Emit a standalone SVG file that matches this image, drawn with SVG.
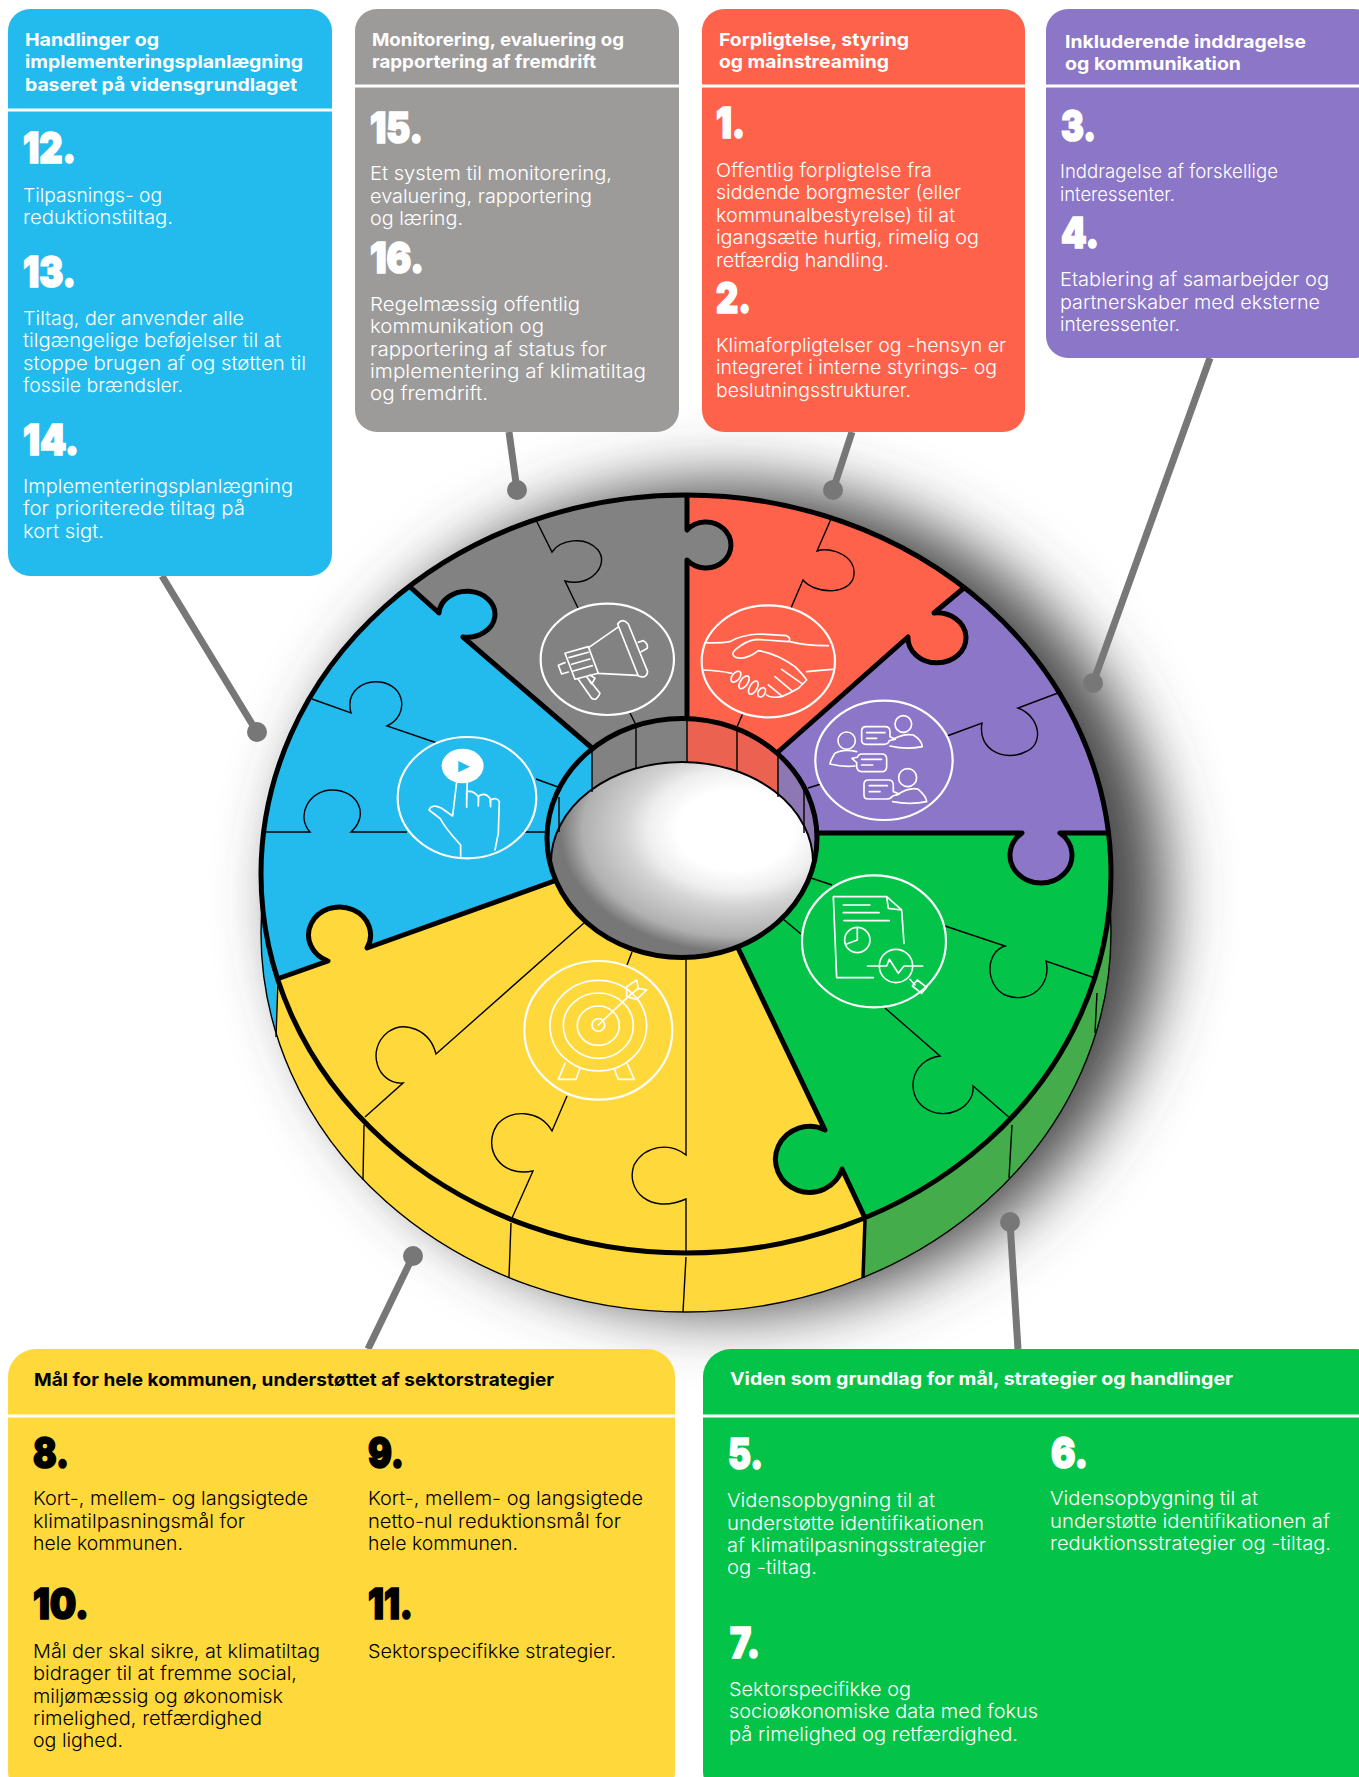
<svg xmlns="http://www.w3.org/2000/svg" width="1359" height="1777" viewBox="0 0 1359 1777">
<style>
text{font-family:Inter,"Liberation Sans",sans-serif}
.h{font-size:18px;font-weight:700}
.n{font-size:42px;font-weight:900;stroke-width:1.7px}
.b{font-size:19px;font-weight:300}
.w{fill:#fff}.w .n{stroke:#fff}
.k{fill:#000}.k .n{stroke:#000}
.sep{stroke:#fff;stroke-width:3}
.thick{fill:none;stroke:#000;stroke-width:5;stroke-linejoin:round}
.thin{fill:none;stroke:#000;stroke-width:1.4}
.ic{fill:none;stroke:#fff;stroke-width:5;stroke-linecap:round;stroke-linejoin:round}
.ring{fill:none;stroke:#fff;stroke-width:6.5}
.pin{stroke:#777;stroke-width:7;fill:none}
</style>
<defs>
<filter id="sh" x="-25%" y="-25%" width="150%" height="150%"><feGaussianBlur stdDeviation="32"/></filter>
<radialGradient id="hg" gradientUnits="userSpaceOnUse" cx="0" cy="0" r="1" gradientTransform="translate(735 830) scale(175 122)">
<stop offset=".33" stop-color="#fff"/><stop offset=".5" stop-color="#eee"/><stop offset=".62" stop-color="#d4d4d4"/><stop offset=".87" stop-color="#b0b0b0"/><stop offset="1" stop-color="#777"/></radialGradient>
<clipPath id="holeOuter"><ellipse cx="682" cy="838" rx="135" ry="119.5"/></clipPath>
<clipPath id="sideG"><path d="M865 1200L863 1330H1200V800H865Z"/></clipPath>
<clipPath id="sideB"><path d="M200 800H279L276 1060H200Z"/></clipPath>
</defs>
<rect width="1359" height="1777" fill="#fff"/>
<g id="wheel">
<ellipse id="wheel-shadow" cx="725" cy="897" rx="440" ry="415" fill="#4a4a4a" filter="url(#sh)"/>
<g id="wheel-side">
<ellipse cx="686" cy="933" rx="425" ry="379" fill="#FFD83B"/>
<ellipse cx="686" cy="933" rx="425" ry="379" fill="#44AC4A" clip-path="url(#sideG)"/>
<ellipse cx="686" cy="933" rx="425" ry="379" fill="#23BBEE" clip-path="url(#sideB)"/>
<ellipse class="thin" cx="686" cy="933" rx="425" ry="379" stroke-width="2"/>
<path class="thin" d="M278 980L276 1037M364 1125L363 1180M511 1223L509 1277M686 1257L683 1312M1012 1125L1009 1178M1097 993L1095 1033"/>
<path fill="none" stroke="#000" stroke-width="3.5" d="M865 1220L863 1278"/>
</g>
<g id="sector-red"><path fill="#FF624B" d="M687 719L687 560A25 23 0 1 0 687 530L687 495A425 379 0 0 1 965 587L934 613A29 25 0 1 1 908 637L778 752Z"/>
<path class="thin" d="M831 519L817 551C830 546 860 556 853 579C846 595 815 594 803 580L791 608M743 713L737 727"/></g>
<g id="sector-purple"><path fill="#8C76C7" d="M778 752L908 637A29 25 0 1 0 934 613L965 587A425 379 0 0 1 1109 833L1060 833A31 28 0 1 1 1022 833L817 833Z"/>
<path class="thin" d="M1058 693L1018 708C1040 716 1045 745 1025 752C1005 762 977 750 982 723L947 736M821 784L808 788"/></g>
<g id="sector-green"><path fill="#04C349" d="M817 833L1022 833A31 28 0 1 0 1060 833L1109 833A425 379 0 0 1 865 1218L842 1169A34 33 0 1 1 825 1130L738 948Z"/>
<path class="thin" d="M945 926L1005 946C985 952 985 985 1005 995C1030 1005 1052 985 1046 961L1095 978M811 878L832 885M783 919L801 934M885 1008L940 1056C910 1060 905 1095 925 1108C945 1122 975 1108 973 1086L1011 1119"/></g>
<g id="sector-yellow"><path fill="#FFD83B" d="M738 948L825 1130A34 33 0 1 0 842 1169L865 1218A425 379 0 0 1 277 979L328 961A31 28 0 1 1 367 948L557 880Z"/>
<path class="thin" d="M584 923L436 1054C430 1030 405 1020 388 1032C365 1050 378 1085 403 1083L365 1117M632 952L627 965M567 1096L552 1131C540 1110 510 1108 497 1125C482 1148 500 1178 533 1171L512 1218M686 958L686 1155C670 1142 645 1145 634 1165C625 1190 650 1215 686 1199L686 1253"/></g>
<g id="sector-blue"><path fill="#23BBEE" d="M557 880L367 948A31 28 0 1 0 328 961L277 979A425 379 0 0 1 409 586L439 613A28 23 0 1 1 463 637L592 748Z"/>
<path class="thin" d="M312 699L351 713C345 690 365 680 380 682C405 685 410 715 387 726L437 743M536 779L558 787M265 832L310 832C295 815 310 790 332 790C358 790 370 815 351 832L407 832M523 832L547 832"/></g>
<g id="sector-gray"><path fill="#828282" d="M592 748L463 637A28 23 0 1 0 439 613L409 586A425 379 0 0 1 687 495L687 530A25 23 0 1 1 687 560L687 719Z"/>
<path class="thin" d="M536 520L552 552C560 540 585 535 598 550C610 565 590 588 565 581L578 608M630 713L636 725"/></g>
<g id="wheel-hole">
<g clip-path="url(#holeOuter)">
<rect x="592" y="700" width="95" height="120" fill="#828282"/>
<rect x="687" y="700" width="91" height="120" fill="#EB6350"/>
<rect x="778" y="700" width="50" height="200" fill="#8E78B4"/>
<rect x="530" y="700" width="62" height="200" fill="#23BBEE"/>
<ellipse cx="682" cy="862" rx="131" ry="100" fill="url(#hg)"/>
<ellipse cx="682" cy="862" rx="131" ry="100" fill="none" stroke="#000" stroke-width="2"/>
</g>
<path class="thin" stroke-width="2" d="M592 748L592 792M687 719L687 763M778 752L778 797M636 725L636 768M737 727L737 770M804 790L804 833M559 797L559 832"/>
<ellipse class="thick" cx="682" cy="838" rx="135" ry="119.5"/>
</g>
<g id="wheel-outline">
<path class="thick" d="M687 719L687 560A25 23 0 1 0 687 530L687 495M778 752L908 637A29 25 0 1 0 934 613L965 587M817 833L1022 833A31 28 0 1 0 1060 833L1109 833M738 948L825 1130A34 33 0 1 0 842 1169L865 1218M557 880L367 948A31 28 0 1 0 328 961L277 979M592 748L463 637A28 23 0 1 0 439 613L409 586"/>
<ellipse class="thick" cx="686" cy="874" rx="425" ry="379"/>
</g>
</g>
<g id="icon-megaphone" transform="translate(250 480) scale(.3333)">
<ellipse class="ring" cx="1072" cy="538" rx="200" ry="167"/>
<path class="ic" d="M1017 502L1103 442M1045 580L1160 586M945 520L1015 500L1045 580L975 598ZM1103 432Q1118 412 1135 432L1193 575Q1190 597 1165 588ZM1165 487L1180 482Q1195 490 1192 505L1174 515M945 548L925 556L935 582L955 576M957 533L1015 517M965 553L1020 537M970 573L1027 557M985 598L1025 655Q1040 665 1050 640L1010 590M1010 590L1025 612L1035 595L1020 585"/>
</g>
<g id="icon-hand" transform="translate(250 480) scale(.3333)">
<ellipse class="ring" cx="651" cy="953" rx="208" ry="182"/>
<ellipse cx="638" cy="858" rx="63" ry="52" fill="#fff"/>
<path fill="#23BBEE" d="M625 843L660 860L625 877Z"/>
<path class="ic" stroke-width="4" fill="#23BBEE" d="M632 1130L632 1095Q590 1050 570 1015Q550 1000 537 990Q545 970 575 985L608 1008L622 890Q637 870 652 890L650 982L650 935Q670 930 685 950L685 978L686 948Q705 935 720 955L722 980L722 960Q740 950 748 965L745 1060L735 1110"/>
</g>
<g id="icon-handshake" transform="translate(680 480) scale(.3333)">
<ellipse class="ring" cx="265" cy="544" rx="200" ry="168"/>
<path class="ic" d="M75 488Q120 490 150 485Q180 465 240 462L320 467Q335 475 325 485L230 478Q200 480 165 510Q150 525 170 533Q200 540 235 512Q290 520 345 560Q370 585 380 600L355 625Q330 640 305 650Q270 655 260 645M330 485Q380 498 445 497M72 570Q120 572 155 580M380 575Q420 570 458 568M305 568L365 610M285 590L335 632M265 615L305 648"/>
<g class="ic"><ellipse cx="168" cy="590" rx="19" ry="11" transform="rotate(-50 168 590)"/><ellipse cx="192" cy="607" rx="22" ry="11" transform="rotate(-55 192 607)"/><ellipse cx="220" cy="623" rx="22" ry="11" transform="rotate(-60 220 623)"/><ellipse cx="245" cy="637" rx="15" ry="10" transform="rotate(-60 245 637)"/></g>
</g>
<g id="icon-people" transform="translate(680 480) scale(.3333)">
<ellipse class="ring" cx="612" cy="841" rx="206" ry="179"/>
<g class="ic"><circle cx="670" cy="732" r="25"/><circle cx="500" cy="782" r="26"/><circle cx="683" cy="893" r="27"/>
<path d="M640 778Q670 760 700 765Q725 780 727 800Q680 810 630 798M530 815Q490 805 465 820Q452 840 450 852Q490 862 525 858M650 945Q690 920 715 928Q740 950 740 965Q690 975 638 965"/>
<path d="M558 740H615Q630 740 630 755V770L646 778L628 782Q625 793 612 793H558Q545 793 545 780V753Q545 740 558 740ZM560 758H615M560 775H590"/>
<path d="M545 822H605Q620 822 620 837V860Q620 875 605 875H545Q532 875 530 860L530 848L516 835L532 832Q535 822 545 822ZM545 838H605M545 855H578"/>
<path d="M565 900H625Q640 900 640 915V935L658 942L638 948Q632 957 620 957H565Q552 957 552 944V913Q552 900 565 900ZM568 917H622M568 935H600"/></g>
</g>
<g id="icon-document" transform="translate(680 880) scale(.3333)">
<ellipse class="ring" cx="582" cy="184" rx="216" ry="198"/>
<g class="ic"><path d="M580 293L470 293L460 50L620 50L665 90L672 190M620 50L625 85L665 90M490 75H570M490 98H597M492 122H628M532 145L532 180L500 192"/><circle cx="532" cy="180" r="38"/><circle cx="648" cy="258" r="50"/><path d="M563 258H598L620 258L628 238L655 280L672 258H728M690 298L705 315M697 318L712 300L740 322L725 340Z"/></g>
</g>
<g id="icon-target" transform="translate(250 880) scale(.3333)">
<ellipse class="ring" cx="1045" cy="451" rx="222" ry="208"/>
<g class="ic"><ellipse cx="1045" cy="437" rx="145" ry="136"/><ellipse cx="1045" cy="437" rx="105" ry="98"/><ellipse cx="1045" cy="437" rx="63" ry="59"/><circle cx="1045" cy="435" r="19"/>
<path d="M945 550L925 598L978 598L990 565M1092 565L1105 598L1153 598L1130 548M1045 435L1135 350" /></g>
<path class="ic" fill="#FFD83B" d="M1130 320L1160 300L1165 325L1190 330L1160 358L1130 350ZM1135 350L1165 325"/>
</g>
<g id="connectors">
<path class="pin" d="M257 732L162 576M517 490L509 432M833 490L852 432M1093 683L1210 358M1010 1222L1018 1349M413 1256L368 1349"/>
<g fill="#777"><circle cx="257" cy="732" r="10"/><circle cx="517" cy="490" r="10"/><circle cx="833" cy="490" r="10"/><circle cx="1093" cy="683" r="10"/><circle cx="1010" cy="1222" r="10"/><circle cx="413" cy="1256" r="10"/></g>
</g>
<g id="box-blue" class="w">
<rect x="8" y="9" width="324" height="567" rx="22" fill="#23BBEE"/>
<path class="sep" d="M8 110H332"/>
<text class="h" x="25" y="46" textLength="134" lengthAdjust="spacingAndGlyphs">Handlinger og</text>
<text class="h" x="25" y="68" textLength="278" lengthAdjust="spacingAndGlyphs">implementeringsplanlægning</text>
<text class="h" x="25" y="91" textLength="272" lengthAdjust="spacingAndGlyphs">baseret på vidensgrundlaget</text>
<text class="n" x="23" y="163" textLength="53" lengthAdjust="spacingAndGlyphs">12.</text>
<text class="b" x="23" y="202" textLength="139" lengthAdjust="spacingAndGlyphs">Tilpasnings- og</text>
<text class="b" x="23" y="224" textLength="150" lengthAdjust="spacingAndGlyphs">reduktionstiltag.</text>
<text class="n" x="23" y="287" textLength="53" lengthAdjust="spacingAndGlyphs">13.</text>
<text class="b" x="23" y="325" textLength="221" lengthAdjust="spacingAndGlyphs">Tiltag, der anvender alle</text>
<text class="b" x="23" y="347" textLength="258" lengthAdjust="spacingAndGlyphs">tilgængelige beføjelser til at</text>
<text class="b" x="23" y="370" textLength="283" lengthAdjust="spacingAndGlyphs">stoppe brugen af og støtten til</text>
<text class="b" x="23" y="392" textLength="160" lengthAdjust="spacingAndGlyphs">fossile brændsler.</text>
<text class="n" x="23" y="455" textLength="56" lengthAdjust="spacingAndGlyphs">14.</text>
<text class="b" x="23" y="493" textLength="270" lengthAdjust="spacingAndGlyphs">Implementeringsplanlægning</text>
<text class="b" x="23" y="515" textLength="222" lengthAdjust="spacingAndGlyphs">for prioriterede tiltag på</text>
<text class="b" x="23" y="538" textLength="81" lengthAdjust="spacingAndGlyphs">kort sigt.</text>
</g>
<g id="box-gray" class="w">
<rect x="355" y="9" width="324" height="423" rx="22" fill="#9C9B9A"/>
<path class="sep" d="M355 86H679"/>
<text class="h" x="372" y="46" textLength="252" lengthAdjust="spacingAndGlyphs">Monitorering, evaluering og</text>
<text class="h" x="372" y="68" textLength="224" lengthAdjust="spacingAndGlyphs">rapportering af fremdrift</text>
<text class="n" x="370" y="143" textLength="53" lengthAdjust="spacingAndGlyphs">15.</text>
<text class="b" x="370" y="180" textLength="242" lengthAdjust="spacingAndGlyphs">Et system til monitorering,</text>
<text class="b" x="370" y="203" textLength="222" lengthAdjust="spacingAndGlyphs">evaluering, rapportering</text>
<text class="b" x="370" y="225" textLength="93" lengthAdjust="spacingAndGlyphs">og læring.</text>
<text class="n" x="370" y="273" textLength="54" lengthAdjust="spacingAndGlyphs">16.</text>
<text class="b" x="370" y="311" textLength="210" lengthAdjust="spacingAndGlyphs">Regelmæssig offentlig</text>
<text class="b" x="370" y="333" textLength="174" lengthAdjust="spacingAndGlyphs">kommunikation og</text>
<text class="b" x="370" y="356" textLength="237" lengthAdjust="spacingAndGlyphs">rapportering af status for</text>
<text class="b" x="370" y="378" textLength="276" lengthAdjust="spacingAndGlyphs">implementering af klimatiltag</text>
<text class="b" x="370" y="400" textLength="118" lengthAdjust="spacingAndGlyphs">og fremdrift.</text>
</g>
<g id="box-red" class="w">
<rect x="702" y="9" width="323" height="423" rx="22" fill="#FF624B"/>
<path class="sep" d="M702 86H1025"/>
<text class="h" x="719" y="46" textLength="190" lengthAdjust="spacingAndGlyphs">Forpligtelse, styring</text>
<text class="h" x="719" y="68" textLength="170" lengthAdjust="spacingAndGlyphs">og mainstreaming</text>
<text class="n" x="716" y="138" textLength="29" lengthAdjust="spacingAndGlyphs">1.</text>
<text class="b" x="716" y="177" textLength="216" lengthAdjust="spacingAndGlyphs">Offentlig forpligtelse fra</text>
<text class="b" x="716" y="199" textLength="245" lengthAdjust="spacingAndGlyphs">siddende borgmester (eller</text>
<text class="b" x="716" y="222" textLength="239" lengthAdjust="spacingAndGlyphs">kommunalbestyrelse) til at</text>
<text class="b" x="716" y="244" textLength="263" lengthAdjust="spacingAndGlyphs">igangsætte hurtig, rimelig og</text>
<text class="b" x="716" y="267" textLength="173" lengthAdjust="spacingAndGlyphs">retfærdig handling.</text>
<text class="n" x="716" y="313" textLength="35" lengthAdjust="spacingAndGlyphs">2.</text>
<text class="b" x="716" y="352" textLength="290" lengthAdjust="spacingAndGlyphs">Klimaforpligtelser og -hensyn er</text>
<text class="b" x="716" y="374" textLength="281" lengthAdjust="spacingAndGlyphs">integreret i interne styrings- og</text>
<text class="b" x="716" y="397" textLength="195" lengthAdjust="spacingAndGlyphs">beslutningsstrukturer.</text>
</g>
<g id="box-purple" class="w">
<rect x="1046" y="9" width="330" height="349" rx="22" fill="#8C76C7"/>
<path class="sep" d="M1046 86H1359"/>
<text class="h" x="1065" y="48" textLength="241" lengthAdjust="spacingAndGlyphs">Inkluderende inddragelse</text>
<text class="h" x="1065" y="70" textLength="176" lengthAdjust="spacingAndGlyphs">og kommunikation</text>
<text class="n" x="1061" y="141" textLength="35" lengthAdjust="spacingAndGlyphs">3.</text>
<text class="b" x="1060" y="178" textLength="218" lengthAdjust="spacingAndGlyphs">Inddragelse af forskellige</text>
<text class="b" x="1060" y="201" textLength="115" lengthAdjust="spacingAndGlyphs">interessenter.</text>
<text class="n" x="1061" y="248" textLength="38" lengthAdjust="spacingAndGlyphs">4.</text>
<text class="b" x="1060" y="286" textLength="269" lengthAdjust="spacingAndGlyphs">Etablering af samarbejder og</text>
<text class="b" x="1060" y="309" textLength="260" lengthAdjust="spacingAndGlyphs">partnerskaber med eksterne</text>
<text class="b" x="1060" y="331" textLength="120" lengthAdjust="spacingAndGlyphs">interessenter.</text>
</g>
<g id="box-yellow" class="k">
<rect x="8" y="1349" width="667" height="450" rx="28" fill="#FFD83B"/>
<path class="sep" d="M8 1416H675"/>
<text class="h" x="34" y="1386" textLength="520" lengthAdjust="spacingAndGlyphs">Mål for hele kommunen, understøttet af sektorstrategier</text>
<text class="n" x="33" y="1468" textLength="36" lengthAdjust="spacingAndGlyphs">8.</text>
<text class="b" x="33" y="1505" textLength="275" lengthAdjust="spacingAndGlyphs">Kort-, mellem- og langsigtede</text>
<text class="b" x="33" y="1528" textLength="212" lengthAdjust="spacingAndGlyphs">klimatilpasningsmål for</text>
<text class="b" x="33" y="1550" textLength="150" lengthAdjust="spacingAndGlyphs">hele kommunen.</text>
<text class="n" x="368" y="1468" textLength="36" lengthAdjust="spacingAndGlyphs">9.</text>
<text class="b" x="368" y="1505" textLength="275" lengthAdjust="spacingAndGlyphs">Kort-, mellem- og langsigtede</text>
<text class="b" x="368" y="1528" textLength="253" lengthAdjust="spacingAndGlyphs">netto-nul reduktionsmål for</text>
<text class="b" x="368" y="1550" textLength="150" lengthAdjust="spacingAndGlyphs">hele kommunen.</text>
<text class="n" x="33" y="1619" textLength="56" lengthAdjust="spacingAndGlyphs">10.</text>
<text class="b" x="33" y="1658" textLength="287" lengthAdjust="spacingAndGlyphs">Mål der skal sikre, at klimatiltag</text>
<text class="b" x="33" y="1680" textLength="264" lengthAdjust="spacingAndGlyphs">bidrager til at fremme social,</text>
<text class="b" x="33" y="1703" textLength="250" lengthAdjust="spacingAndGlyphs">miljømæssig og økonomisk</text>
<text class="b" x="33" y="1725" textLength="229" lengthAdjust="spacingAndGlyphs">rimelighed, retfærdighed</text>
<text class="b" x="33" y="1747" textLength="90" lengthAdjust="spacingAndGlyphs">og lighed.</text>
<text class="n" x="368" y="1619" textLength="45" lengthAdjust="spacingAndGlyphs">11.</text>
<text class="b" x="368" y="1658" textLength="248" lengthAdjust="spacingAndGlyphs">Sektorspecifikke strategier.</text>
</g>
<g id="box-green" class="w">
<rect x="703" y="1349" width="680" height="450" rx="28" fill="#04C349"/>
<path class="sep" d="M703 1416H1359"/>
<text class="h" x="730" y="1385" textLength="503" lengthAdjust="spacingAndGlyphs">Viden som grundlag for mål, strategier og handlinger</text>
<text class="n" x="728" y="1469" textLength="35" lengthAdjust="spacingAndGlyphs">5.</text>
<text class="b" x="727" y="1507" textLength="208" lengthAdjust="spacingAndGlyphs">Vidensopbygning til at</text>
<text class="b" x="727" y="1530" textLength="257" lengthAdjust="spacingAndGlyphs">understøtte identifikationen</text>
<text class="b" x="727" y="1552" textLength="259" lengthAdjust="spacingAndGlyphs">af klimatilpasningsstrategier</text>
<text class="b" x="727" y="1574" textLength="90" lengthAdjust="spacingAndGlyphs">og -tiltag.</text>
<text class="n" x="1051" y="1468" textLength="37" lengthAdjust="spacingAndGlyphs">6.</text>
<text class="b" x="1050" y="1505" textLength="208" lengthAdjust="spacingAndGlyphs">Vidensopbygning til at</text>
<text class="b" x="1050" y="1528" textLength="280" lengthAdjust="spacingAndGlyphs">understøtte identifikationen af</text>
<text class="b" x="1050" y="1550" textLength="281" lengthAdjust="spacingAndGlyphs">reduktionsstrategier og -tiltag.</text>
<text class="n" x="730" y="1658" textLength="30" lengthAdjust="spacingAndGlyphs">7.</text>
<text class="b" x="729" y="1696" textLength="182" lengthAdjust="spacingAndGlyphs">Sektorspecifikke og</text>
<text class="b" x="729" y="1718" textLength="309" lengthAdjust="spacingAndGlyphs">socioøkonomiske data med fokus</text>
<text class="b" x="729" y="1741" textLength="289" lengthAdjust="spacingAndGlyphs">på rimelighed og retfærdighed.</text>
</g>
</svg>
